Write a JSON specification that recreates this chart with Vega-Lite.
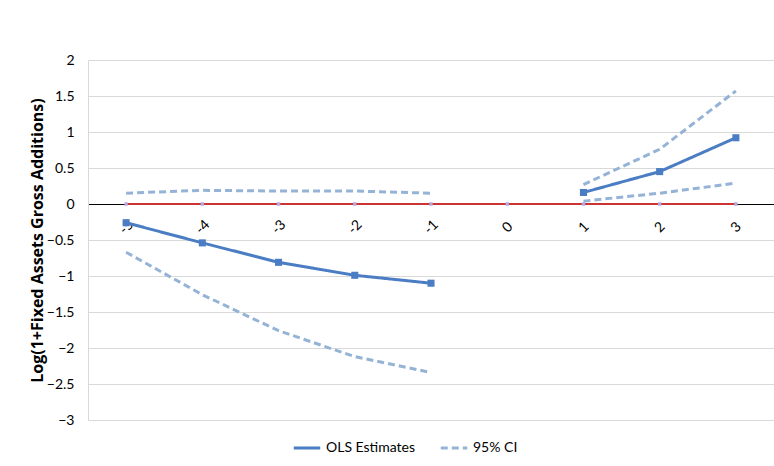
{
  "$schema": "https://vega.github.io/schema/vega-lite/v6.json",
  "width": 686,
  "height": 360,
  "autosize": {"type": "none"},
  "padding": {"left": 88, "top": 60, "right": 0, "bottom": 46},
  "background": "white",
  "config": {
    "font": "Lato",
    "view": {"stroke": null},
    "legend": {"labelFontSize": 14, "labelColor": "#000000", "labelFont": "Lato"}
  },
  "data": {
    "values": [
      {"t": "-5", "s": "zero", "g": "zero", "v": 0},
      {"t": "-4", "s": "zero", "g": "zero", "v": 0},
      {"t": "-3", "s": "zero", "g": "zero", "v": 0},
      {"t": "-2", "s": "zero", "g": "zero", "v": 0},
      {"t": "-1", "s": "zero", "g": "zero", "v": 0},
      {"t": "0", "s": "zero", "g": "zero", "v": 0},
      {"t": "1", "s": "zero", "g": "zero", "v": 0},
      {"t": "2", "s": "zero", "g": "zero", "v": 0},
      {"t": "3", "s": "zero", "g": "zero", "v": 0},
      {"t": "-5", "s": "OLS Estimates", "g": "ols-pre", "v": -0.26},
      {"t": "-4", "s": "OLS Estimates", "g": "ols-pre", "v": -0.54},
      {"t": "-3", "s": "OLS Estimates", "g": "ols-pre", "v": -0.81},
      {"t": "-2", "s": "OLS Estimates", "g": "ols-pre", "v": -0.99},
      {"t": "-1", "s": "OLS Estimates", "g": "ols-pre", "v": -1.10},
      {"t": "1", "s": "OLS Estimates", "g": "ols-post", "v": 0.16},
      {"t": "2", "s": "OLS Estimates", "g": "ols-post", "v": 0.45},
      {"t": "3", "s": "OLS Estimates", "g": "ols-post", "v": 0.92},
      {"t": "-5", "s": "95% CI", "g": "up-pre", "v": 0.15},
      {"t": "-4", "s": "95% CI", "g": "up-pre", "v": 0.19},
      {"t": "-3", "s": "95% CI", "g": "up-pre", "v": 0.18},
      {"t": "-2", "s": "95% CI", "g": "up-pre", "v": 0.18},
      {"t": "-1", "s": "95% CI", "g": "up-pre", "v": 0.15},
      {"t": "1", "s": "95% CI", "g": "up-post", "v": 0.27},
      {"t": "2", "s": "95% CI", "g": "up-post", "v": 0.76},
      {"t": "3", "s": "95% CI", "g": "up-post", "v": 1.57},
      {"t": "-5", "s": "95% CI", "g": "lo-pre", "v": -0.67},
      {"t": "-4", "s": "95% CI", "g": "lo-pre", "v": -1.26},
      {"t": "-3", "s": "95% CI", "g": "lo-pre", "v": -1.76},
      {"t": "-2", "s": "95% CI", "g": "lo-pre", "v": -2.12},
      {"t": "-1", "s": "95% CI", "g": "lo-pre", "v": -2.34},
      {"t": "1", "s": "95% CI", "g": "lo-post", "v": 0.04},
      {"t": "2", "s": "95% CI", "g": "lo-post", "v": 0.15},
      {"t": "3", "s": "95% CI", "g": "lo-post", "v": 0.29}
    ]
  },
  "encoding": {
    "x": {
      "field": "t",
      "type": "ordinal",
      "sort": ["-5", "-4", "-3", "-2", "-1", "0", "1", "2", "3"],
      "scale": {"type": "point", "padding": 0.5},
      "axis": {
        "title": null,
        "offset": -216,
        "ticks": false,
        "grid": false,
        "domainColor": "#000000",
        "domainWidth": 1,
        "labelAngle": -45,
        "labelAlign": "center",
        "labelBaseline": "middle",
        "labelPadding": 23,
        "labelFontSize": 14,
        "labelColor": "#000000"
      }
    },
    "y": {
      "field": "v",
      "type": "quantitative",
      "scale": {"domain": [-3, 2], "nice": false, "zero": false},
      "axis": {
        "title": "Log(1+Fixed Assets Gross Additions)",
        "titleFont": "Open Sans",
        "titleFontSize": 16,
        "titleFontWeight": "bold",
        "titleColor": "#000000",
        "titlePadding": 1,
        "values": [-3, -2.5, -2, -1.5, -1, -0.5, 0, 0.5, 1, 1.5, 2],
        "format": ".1~f",
        "labelFontSize": 14,
        "labelColor": "#000000",
        "labelPadding": 14,
        "ticks": false,
        "domainColor": "#D9D9D9",
        "gridColor": "#D9D9D9",
        "gridWidth": 1
      }
    }
  },
  "layer": [
    {
      "transform": [{"filter": "datum.s == 'zero'"}],
      "mark": {"type": "line", "color": "#CC3333", "strokeWidth": 2},
      "encoding": {}
    },
    {
      "transform": [{"filter": "datum.s == 'zero'"}],
      "mark": {"type": "point", "shape": "square", "size": 12, "filled": true, "color": "#B7A6D9", "opacity": 1},
      "encoding": {}
    },
    {
      "transform": [{"filter": "datum.s != 'zero'"}],
      "mark": {"type": "line", "strokeWidth": 3},
      "encoding": {
        "detail": {"field": "g"},
        "color": {
          "field": "s",
          "type": "nominal",
          "scale": {"domain": ["OLS Estimates", "95% CI"], "range": ["#4A7DC4", "#95B3D7"]},
          "legend": {
            "title": null,
            "orient": "none",
            "direction": "horizontal",
            "legendX": 204,
            "legendY": 373,
            "symbolType": "stroke",
            "symbolSize": 700,
            "symbolStrokeWidth": 3,
            "columnPadding": 18,
            "labelOffset": 4
          }
        },
        "strokeDash": {
          "field": "s",
          "type": "nominal",
          "scale": {"domain": ["OLS Estimates", "95% CI"], "range": [[1, 0], [7, 4]]},
          "legend": {
            "title": null,
            "orient": "none",
            "direction": "horizontal",
            "legendX": 204,
            "legendY": 373,
            "symbolType": "stroke",
            "symbolSize": 700,
            "symbolStrokeWidth": 3,
            "columnPadding": 18,
            "labelOffset": 4
          }
        }
      }
    },
    {
      "transform": [{"filter": "datum.s == 'OLS Estimates'"}],
      "mark": {"type": "point", "shape": "square", "size": 50, "filled": true, "color": "#4A7DC4", "opacity": 1},
      "encoding": {}
    }
  ]
}
